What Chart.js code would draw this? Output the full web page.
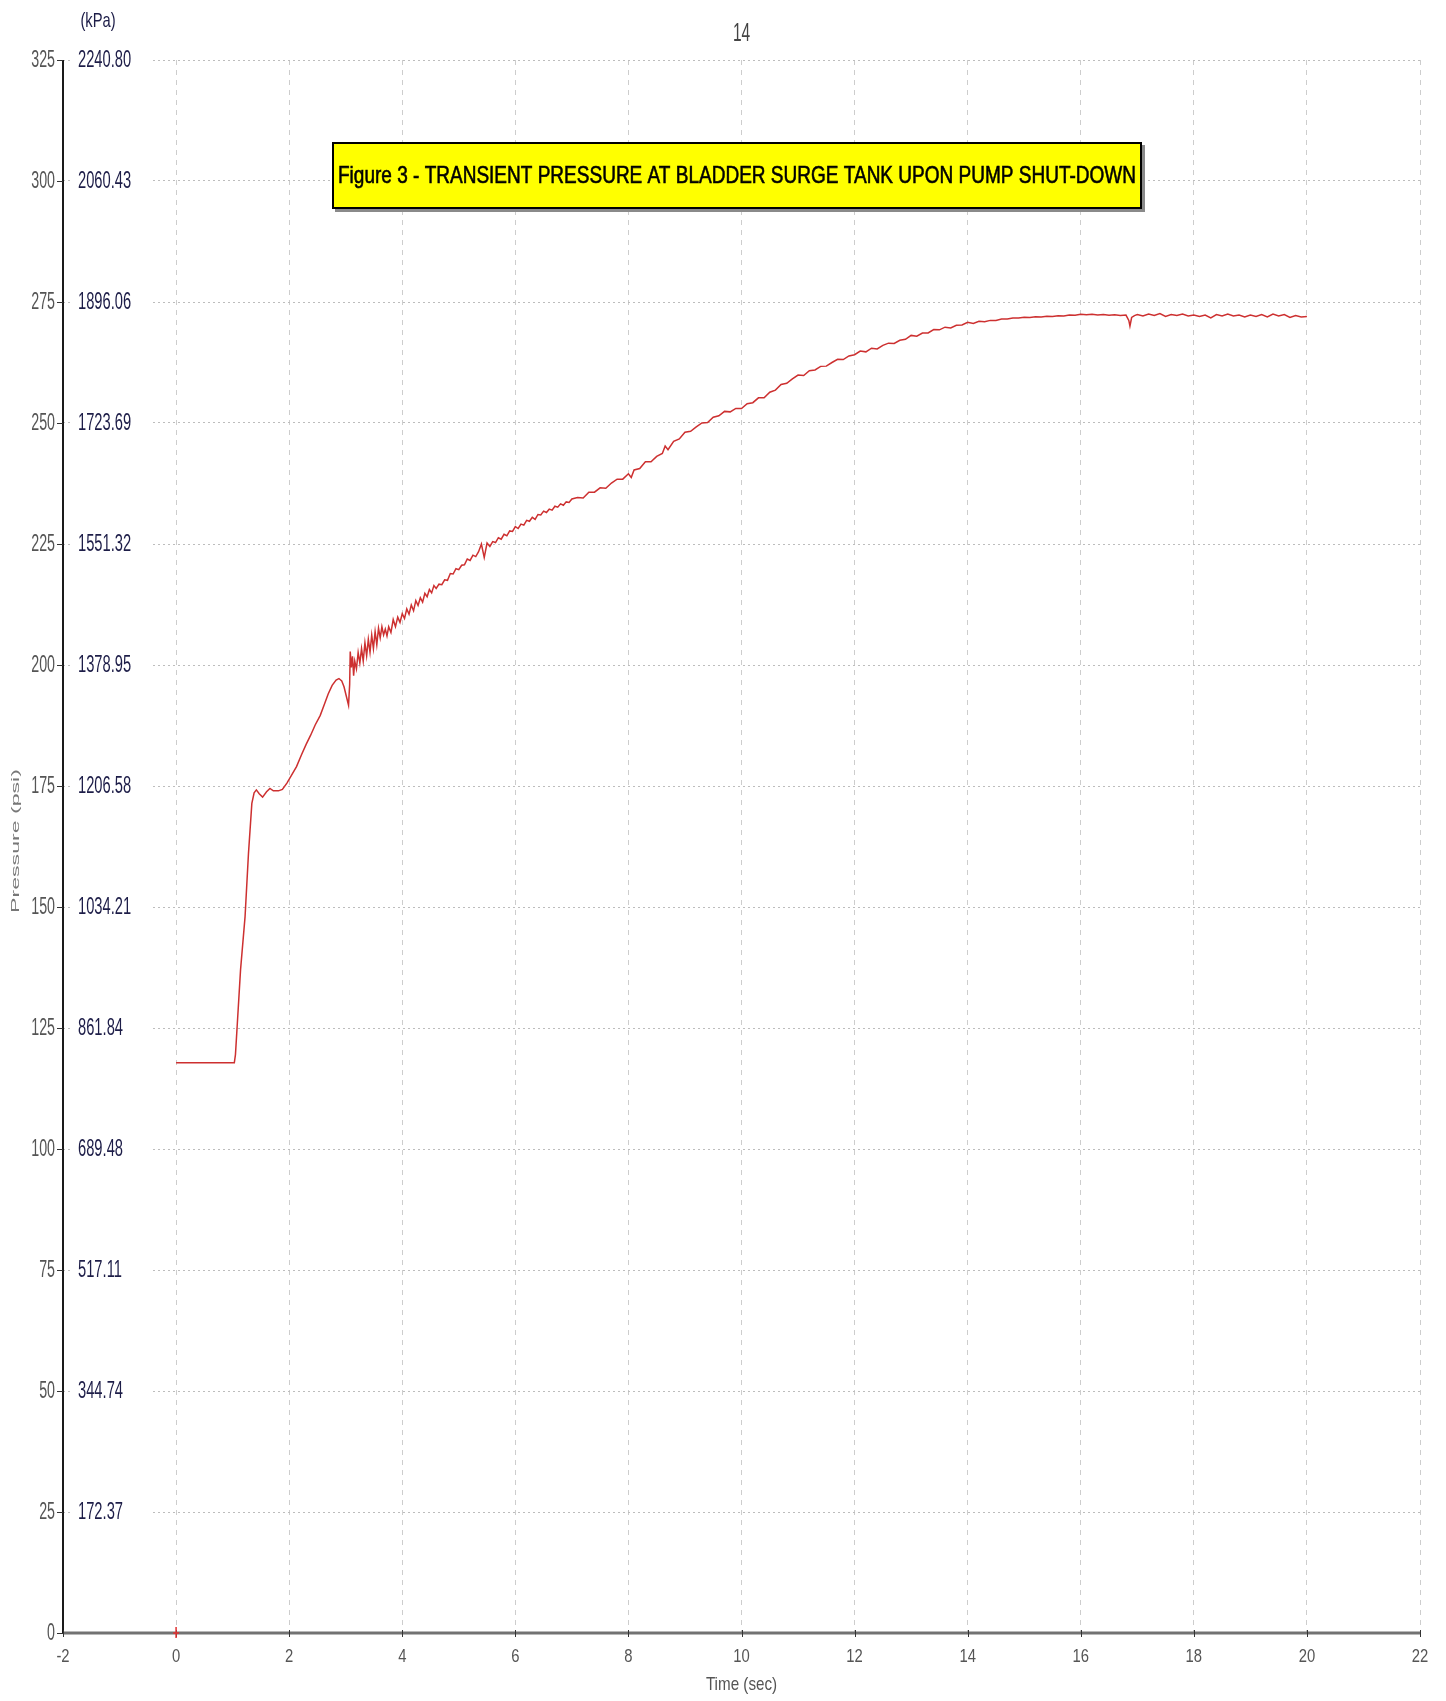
<!DOCTYPE html>
<html>
<head>
<meta charset="utf-8">
<title>Transient pressure at bladder surge tank</title>
<script src="https://cdn.jsdelivr.net/npm/chart.js@4.4.1/dist/chart.umd.min.js"></script>
<style>
  html, body { margin: 0; padding: 0; background: #ffffff; }
  #wrap { width: 1446px; height: 1701px; }
</style>
</head>
<body>
<div id="wrap"><canvas id="chart" width="1446" height="1701"></canvas></div>
<script>
// Time axis (s) and recorded pressure (psi) at the surge tank
const timeSec = [
  0, 0.5, 1.0, 1.03, 1.05, 1.08, 1.14, 1.22, 1.28, 1.34, 1.38, 1.42, 1.47, 1.53, 1.60, 1.66, 1.72, 1.81, 1.88, 1.96,
  2.04, 2.13, 2.22, 2.30, 2.38, 2.46, 2.55, 2.62, 2.69, 2.76, 2.83, 2.88, 2.93, 2.97, 3.01, 3.05,
  3.07, 3.08, 3.10, 3.12, 3.14, 3.16, 3.19, 3.22, 3.25, 3.28, 3.31, 3.34, 3.37, 3.40, 3.43, 3.46, 3.49, 3.52, 3.55, 3.58,
  3.61, 3.64, 3.67, 3.70, 3.73, 3.76, 3.80, 3.84, 3.88, 3.92, 3.96, 4.00, 4.04, 4.08, 4.12, 4.16, 4.20, 4.24, 4.28, 4.32,
  4.36, 4.40, 4.44, 4.48, 4.52, 4.56, 4.60,
  4.65, 4.70, 4.75, 4.80, 4.85, 4.90, 4.95, 5.00, 5.05, 5.10, 5.15, 5.20, 5.25, 5.30, 5.35, 5.40, 5.45, 5.50, 5.55, 5.60,
  5.65, 5.70, 5.75, 5.80, 5.85, 5.90, 5.95, 6.00, 6.05, 6.10, 6.15, 6.20, 6.25, 6.30, 6.35, 6.40, 6.45, 6.50, 6.55, 6.60,
  6.65, 6.70, 6.75, 6.80, 6.85, 6.90, 6.95, 7.00,
  7.1, 7.2, 7.3, 7.4, 7.5, 7.6, 7.7, 7.8, 7.9, 8.0, 8.05, 8.1, 8.2, 8.3, 8.4, 8.5, 8.6, 8.65, 8.7, 8.8, 8.9, 9.0,
  9.1, 9.2, 9.3, 9.4, 9.5, 9.6, 9.7, 9.8, 9.9, 10.0, 10.1, 10.2, 10.3, 10.4,
  10.5, 10.6, 10.7, 10.8, 10.9, 11.0, 11.1, 11.2, 11.3, 11.4, 11.5, 11.6, 11.7, 11.8, 11.9, 12.0, 12.1, 12.2, 12.3, 12.4,
  12.5, 12.6, 12.7, 12.8, 12.9, 13.0, 13.1, 13.2, 13.3, 13.4, 13.5, 13.6, 13.7, 13.8, 13.9, 14.0, 14.1, 14.2, 14.3, 14.4,
  14.5, 14.6, 14.7, 14.8, 14.9, 15.0, 15.1, 15.2, 15.3, 15.4, 15.5, 15.6, 15.7, 15.8, 15.9, 16.0, 16.1, 16.2, 16.3, 16.4,
  16.5, 16.6, 16.7, 16.8, 16.85, 16.87, 16.9, 16.95,
  17.0, 17.1, 17.2, 17.3, 17.4, 17.5, 17.6, 17.7, 17.8, 17.9, 18.0, 18.1, 18.2, 18.3, 18.4, 18.5, 18.6, 18.7, 18.8, 18.9,
  19.0, 19.1, 19.2, 19.3, 19.4, 19.5, 19.6, 19.7, 19.8, 19.9, 20.0
];

const pressurePsi = [
  117.8, 117.8, 117.8, 117.8, 119.5, 125.3, 137.0, 148.0, 161.0, 171.4, 173.6, 174.2, 173.4, 172.7, 173.8, 174.5, 174.0, 174.0, 174.3, 175.6,
  177.2, 179.0, 181.5, 183.6, 185.5, 187.6, 189.6, 191.8, 194.0, 195.8, 196.9, 197.2, 196.7, 195.5, 193.6, 191.7,
  196.0, 202.8, 199.5, 201.8, 197.8, 200.8, 199.2, 202.6, 200.4, 203.4, 200.8, 204.6, 201.9, 205.3, 202.6, 206.2, 203.4, 206.9, 204.2, 207.6,
  205.6, 207.9, 206.2, 207.4, 206.0, 207.9, 206.7, 209.4, 207.9, 209.9, 208.8, 210.6, 209.6, 211.6, 210.5, 212.4, 211.2, 213.3, 212.3, 213.9,
  213.0, 214.8, 214.1, 215.6, 214.9, 216.4, 215.8,
  216.7, 216.6, 217.6, 217.5, 218.9, 218.8, 219.9, 219.7, 220.6, 220.7, 221.9, 221.6, 222.7, 222.4, 223.4, 225.0, 222.2, 225.2, 224.5, 225.5,
  225.3, 226.3, 226.0, 227.0, 226.7, 227.7, 227.6, 228.6, 228.2, 229.1, 228.9, 229.9, 229.7, 230.5, 230.1, 231.1, 231.0, 231.8, 231.5, 232.2,
  232.0, 232.8, 232.6, 233.3, 233.0, 233.7, 233.6, 234.3,
  234.6, 234.5, 235.7, 235.7, 236.6, 236.5, 237.6, 238.4, 238.4, 239.5, 238.75, 240.3, 240.6, 242.0, 242.0, 243.1, 243.7, 245.25, 244.5, 246.2, 246.7, 248.1,
  248.3, 249.2, 250.0, 250.1, 251.2, 251.5, 252.4, 252.3, 253.0, 253.0, 254.0, 254.2, 255.2, 255.2,
  256.35, 256.8, 257.95, 258.2, 259.1, 259.9, 259.8, 260.8, 260.95, 261.7, 261.75, 262.5, 263.15, 263.1, 263.85, 264.1, 264.85, 264.7, 265.45, 265.3,
  266.05, 266.5, 266.45, 267.1, 267.3, 268.1, 267.95, 268.6, 268.6, 269.3, 269.25, 269.8, 269.65, 270.2, 270.25, 270.8, 270.55, 271.0, 270.9, 271.2,
  271.2, 271.5, 271.5, 271.7, 271.7, 271.85, 271.8, 271.95, 271.9, 272.05, 272.0, 272.15, 272.1, 272.3, 272.25, 272.45, 272.35, 272.45, 272.3, 272.4,
  272.25, 272.35, 272.2, 272.3, 271.2, 270.0, 271.8, 272.2,
  272.4, 272.1, 272.5, 272.2, 272.6, 272.0, 272.4, 272.2, 272.5, 272.1, 272.3, 272.0, 272.3, 271.7, 272.4, 272.1, 272.5, 272.1, 272.3, 271.9,
  272.3, 272.0, 272.4, 271.9, 272.5, 272.1, 272.4, 271.8, 272.2, 271.9, 272.0
];

// Axis ticks and their printed labels
const timeTicks = [-2, 0, 2, 4, 6, 8, 10, 12, 14, 16, 18, 20, 22];
const psiTicks = [0, 25, 50, 75, 100, 125, 150, 175, 200, 225, 250, 275, 300, 325];
const kpaLabels = ['', '172.37', '344.74', '517.11', '689.48', '861.84', '1034.21', '1206.58',
                   '1378.95', '1551.32', '1723.69', '1896.06', '2060.43', '2240.80'];

const chartTitle = 'Figure 3 - TRANSIENT PRESSURE AT BLADDER SURGE TANK UPON PUMP SHUT-DOWN';
const pageNumber = '14';
const xAxisTitle = 'Time (sec)';
const yAxisTitle = 'Pressure (psi)';
const kpaUnit = '(kPa)';

const FONT = '"Liberation Sans", Arial, sans-serif';

// Draw text squeezed (or stretched) along its baseline
function squeezedText(ctx, text, x, y, o) {
  ctx.save();
  ctx.font = o.size + 'px ' + FONT;
  ctx.fillStyle = o.color;
  ctx.textBaseline = 'middle';
  ctx.textAlign = 'left';
  ctx.translate(x, y);
  if (o.rotate) ctx.rotate(o.rotate);
  ctx.scale(o.sx, 1);
  const w = ctx.measureText(text).width;
  const dx = o.align === 'right' ? -w : (o.align === 'center' ? -w / 2 : 0);
  ctx.fillText(text, dx, 0);
  if (o.heavy) {
    ctx.strokeStyle = o.color;
    ctx.lineWidth = o.heavy;
    ctx.strokeText(text, dx, 0);
  }
  ctx.restore();
}

const decorations = {
  id: 'decorations',
  beforeDatasetsDraw(chart) {
    const { ctx, scales: { x, y } } = chart;
    // kPa scale printed just inside the plot, on white plates over the grid
    psiTicks.forEach((v, i) => {
      const label = kpaLabels[i];
      if (!label) return;
      const py = y.getPixelForValue(v);
      ctx.save();
      ctx.fillStyle = '#ffffff';
      ctx.fillRect(x.left + 8, py - 12, 80, 24);
      ctx.restore();
      squeezedText(ctx, label, x.left + 15, py + 1, { size: 23, sx: 0.64, color: '#1d1d48', align: 'left' });
    });
  },
  afterDraw(chart) {
    const { ctx, scales: { x, y } } = chart;
    const x0 = x.getPixelForValue(-2);
    const x1 = x.getPixelForValue(22);
    const yTop = y.getPixelForValue(325);
    const yBase = y.getPixelForValue(0);

    ctx.save();
    // x axis
    ctx.strokeStyle = '#727272';
    ctx.lineWidth = 3;
    ctx.beginPath();
    ctx.moveTo(x0, yBase);
    ctx.lineTo(x1, yBase);
    ctx.stroke();
    // y axis
    ctx.strokeStyle = '#1a1a1a';
    ctx.lineWidth = 2;
    ctx.beginPath();
    ctx.moveTo(x0, yTop);
    ctx.lineTo(x0, yBase + 1);
    ctx.stroke();

    // tick marks
    ctx.strokeStyle = '#333333';
    ctx.lineWidth = 1;
    psiTicks.forEach(v => {
      const py = Math.round(y.getPixelForValue(v)) + 0.5;
      ctx.beginPath();
      ctx.moveTo(x0 - 6, py);
      ctx.lineTo(x0, py);
      ctx.stroke();
    });
    timeTicks.forEach(v => {
      const px = Math.round(x.getPixelForValue(v)) + 0.5;
      ctx.beginPath();
      ctx.moveTo(px, yBase - 3);
      ctx.lineTo(px, yBase + 4);
      ctx.stroke();
    });
    // start-of-record marker at t = 0
    const pz = x.getPixelForValue(0);
    ctx.strokeStyle = '#e03030';
    ctx.lineWidth = 1.5;
    ctx.beginPath();
    ctx.moveTo(pz, yBase - 6);
    ctx.lineTo(pz, yBase + 5);
    ctx.moveTo(pz - 3, yBase);
    ctx.lineTo(pz + 3, yBase);
    ctx.stroke();
    ctx.restore();

    // psi labels
    psiTicks.forEach(v => {
      squeezedText(ctx, String(v), x0 - 8, y.getPixelForValue(v) + 1, { size: 23, sx: 0.62, color: '#555555', align: 'right' });
    });
    // time labels
    timeTicks.forEach(v => {
      squeezedText(ctx, String(v), x.getPixelForValue(v), yBase + 24, { size: 19, sx: 0.78, color: '#555555', align: 'center' });
    });

    squeezedText(ctx, xAxisTitle, x.getPixelForValue(10), yBase + 52, { size: 19, sx: 0.8, color: '#555555', align: 'center' });
    squeezedText(ctx, yAxisTitle, 16, 841, { size: 11, sx: 2.1, color: '#777777', align: 'center', rotate: -Math.PI / 2 });
    squeezedText(ctx, kpaUnit, 98, 21, { size: 21, sx: 0.7, color: '#1d1d48', align: 'center' });
    squeezedText(ctx, pageNumber, x.getPixelForValue(10), 34, { size: 25, sx: 0.62, color: '#444444', align: 'center' });

    // title plate
    const bx = 332, by = 142, bw = 810, bh = 67;
    ctx.save();
    ctx.fillStyle = '#8a8a8a';
    ctx.fillRect(bx + 3, by + 3, bw, bh);
    ctx.fillStyle = '#ffff00';
    ctx.fillRect(bx, by, bw, bh);
    ctx.strokeStyle = '#000000';
    ctx.lineWidth = 2;
    ctx.strokeRect(bx + 1, by + 1, bw - 2, bh - 2);
    ctx.font = '24px ' + FONT;
    const natural = ctx.measureText(chartTitle).width;
    ctx.restore();
    squeezedText(ctx, chartTitle, bx + bw / 2, by + bh / 2 + 1, { size: 24, sx: (bw - 12) / natural, color: '#000000', align: 'center', heavy: 0.6 });
  }
};

new Chart(document.getElementById('chart'), {
  type: 'line',
  data: {
    datasets: [{
      data: timeSec.map((t, i) => ({ x: t, y: pressurePsi[i] })),
      borderColor: 'rgb(205, 48, 48)',
      borderWidth: 1.5,
      pointRadius: 0,
      tension: 0,
      fill: false
    }]
  },
  options: {
    responsive: false,
    animation: false,
    layout: { padding: { left: 63, right: 26, top: 60, bottom: 68 } },
    plugins: { legend: { display: false }, tooltip: { enabled: false } },
    scales: {
      x: {
        type: 'linear', min: -2, max: 22,
        ticks: { display: false, stepSize: 2 },
        grid: { color: '#cdcdcd', lineWidth: 1, drawTicks: false },
        border: { display: false, dash: [5, 5] }
      },
      y: {
        type: 'linear', min: 0, max: 325,
        ticks: { display: false, stepSize: 25 },
        grid: { color: '#bdbdbd', lineWidth: 1, drawTicks: false },
        border: { display: false, dash: [2, 3] }
      }
    }
  },
  plugins: [decorations]
});
</script>
</body>
</html>
